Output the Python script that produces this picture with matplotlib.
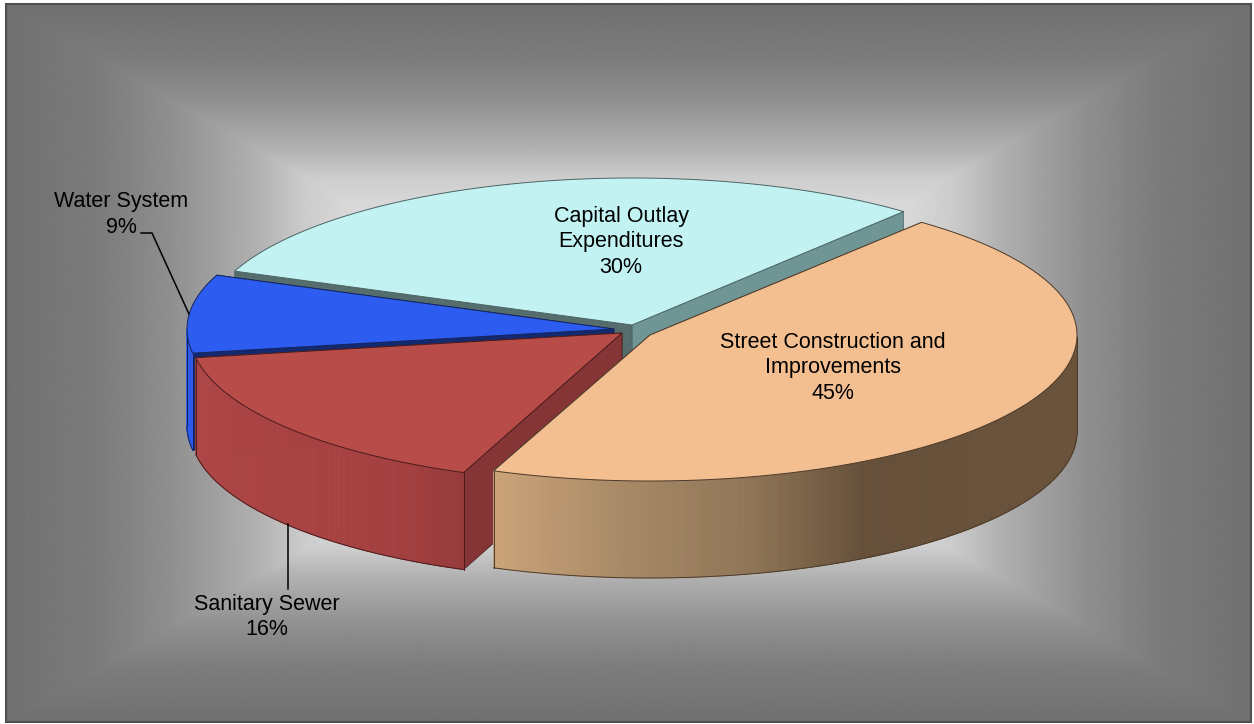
import numpy as np
import matplotlib
matplotlib.use("Agg")
import matplotlib.pyplot as plt
from matplotlib.colors import LinearSegmentedColormap
from matplotlib.patches import Polygon, Rectangle

plt.rcParams['font.family'] = ['Liberation Sans', 'DejaVu Sans']

# -----------------------------
# Data
# -----------------------------
categories = ["Street Construction and\nImprovements", "Capital Outlay\nExpenditures",
              "Water System", "Sanitary Sewer"]
shares = [45, 30, 8.6, 16.4]   # labels show them rounded
start_angle = -111.5    # orange slice starts here, going counter-clockwise

# -----------------------------
# Pie geometry (pixels)
# -----------------------------
radii = [(427, 146), (427, 147), (427, 147), (432, 150)]
depth = 97
# slice centres after explosion, same order as categories
centres = [(650, 335), (632, 325), (614, 329), (622, 333)]
# drawing order: back to front
draw_order = [1, 2, 3, 0]

top_colors = ["#f4bf90", "#c2f3f2", "#2c5cf0", "#b84c48"]
# wall under the slice's first and second straight edge
cut_colors = [("#c8a077", "#c8a077"), ("#6f9595", "#566d6d"),
              ("#142a70", "#142a70"), ("#853535", "#853535")]
rim_stops = [[(0, "#caa379"), (.21, "#a98a67"), (.44, "#8f7557"), (.63, "#66503a"), (1, "#6b533b")],
             [(0, "#6f9595"), (1, "#6f9595")],
             [(0, "#2d5be8"), (1, "#2d5be8")],
             [(0, "#ad4646"), (.5, "#a84242"), (.8, "#a33f3f"), (1, "#963b3b")]]
line_colors = ["#4a3a2a", "#4c6464", "#14245c", "#4a1c1c"]

fig = plt.figure(figsize=(12.54, 7.24), dpi=100, facecolor="white")
ax = fig.add_axes([0, 0, 1, 1])
ax.axis("off")

# -----------------------------
# Background: rectangular path gradient
# -----------------------------
left, right, top, bottom = 6, 1251, 4, 722
xx, yy = np.meshgrid(np.linspace(-1, 1, 1246), np.linspace(-1, 1, 719))
t = np.maximum(np.abs(xx), np.abs(yy))
gray = np.interp(t, [0, .45, .52, .6, .68, .74, .85, 1],
                 [0xdc, 0xd8, 0xcc, 0xb0, 0x9c, 0x8e, 0x7c, 0x70]) / 255
ax.imshow(gray, cmap="gray", vmin=0, vmax=1, extent=(left, right, bottom, top),
          aspect="auto", zorder=0, interpolation="bilinear")
ax.set_xlim(0, 1254)
ax.set_ylim(724, 0)
ax.add_patch(Rectangle((left, top), right - left, bottom - top, fill=False,
                       edgecolor="#505050", linewidth=1.5, zorder=1))


def point(c, r, deg):
    a = np.radians(deg)
    return c[0] + r[0] * np.cos(a), c[1] - r[1] * np.sin(a)


def draw_slice(i, a0, a1, z):
    c = centres[i]
    angles = np.linspace(a0, a1, 200)
    rim = np.array([point(c, radii[i], d) for d in angles])

    # straight cut walls
    for end, col in zip((rim[0], rim[-1]), cut_colors[i]):
        wall = [c, end, (end[0], end[1] + depth), (c[0], c[1] + depth)]
        ax.add_patch(Polygon(wall, closed=True, facecolor=col, edgecolor=line_colors[i],
                             linewidth=0.5, zorder=z))

    # outer wall, only the part facing the viewer
    cmap = LinearSegmentedColormap.from_list("rim", rim_stops[i])
    front = np.sin(np.radians(angles)) < 0
    pts = rim[front]
    if len(pts) > 1:
        x0, x1 = pts[:, 0].min(), pts[:, 0].max()
        for p, q in zip(pts[:-1], pts[1:]):
            col = cmap((p[0] - x0) / max(x1 - x0, 1))
            ax.add_patch(Polygon([p, q, (q[0], q[1] + depth), (p[0], p[1] + depth)],
                                 closed=True, facecolor=col, edgecolor=col,
                                 linewidth=0.6, zorder=z))
        ax.plot(pts[:, 0], pts[:, 1] + depth, color=line_colors[i], lw=0.7, zorder=z)
        for p in (pts[0], pts[-1]):
            ax.plot([p[0], p[0]], [p[1], p[1] + depth], color=line_colors[i], lw=0.7, zorder=z)

    # top face
    outline = np.vstack([[c], rim])
    ax.add_patch(Polygon(outline, closed=True, facecolor=top_colors[i],
                         edgecolor=line_colors[i], linewidth=0.7, zorder=z))


# -----------------------------
# Slices
# -----------------------------
spans = np.array(shares) * 3.6
starts = start_angle + np.concatenate([[0], np.cumsum(spans)[:-1]])
for z, i in enumerate(draw_order):
    draw_slice(i, starts[i], starts[i] + spans[i], 3 + z)

# -----------------------------
# Labels and leader lines
# -----------------------------
label_pos = [(833, 368), (621, 242), (121.5, 214.5), (267, 617)]
for name, share, (lx, ly) in zip(categories, shares, label_pos):
    ax.text(lx, ly, f"{name}\n{round(share)}%", ha="center", va="center", fontsize=15.5,
            color="black", linespacing=1.26, zorder=10)

ax.plot([141, 152, 189], [233, 233, 314], color="black", lw=1.1, zorder=9)
ax.plot([288, 288], [524, 589], color="black", lw=1.1, zorder=9)

fig.savefig("out.png", dpi=100)
